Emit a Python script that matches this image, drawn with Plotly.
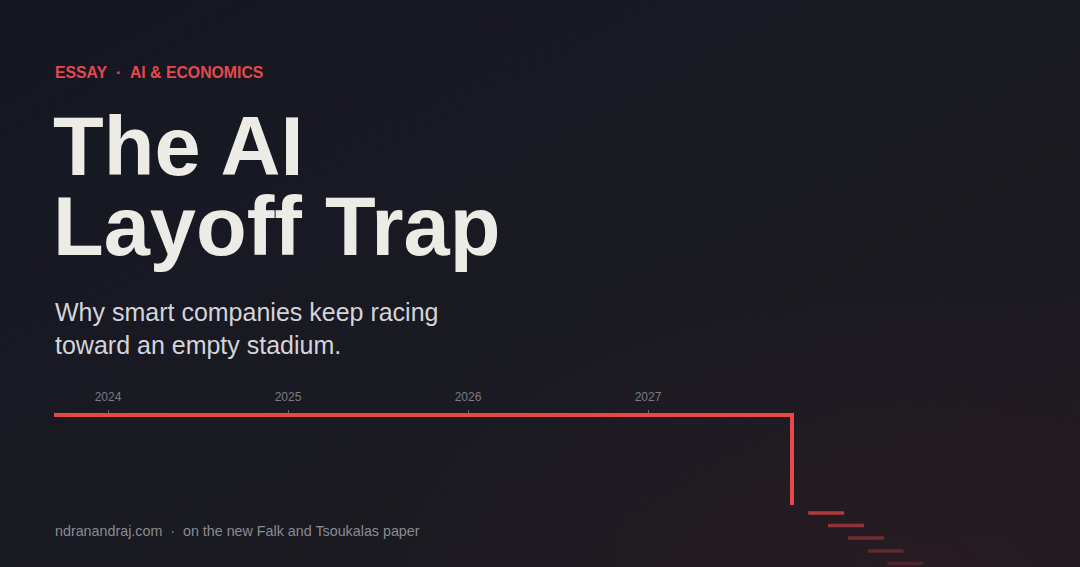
import base64
import plotly.graph_objects as go

# timeline data (x in years, y = headcount level)
line_years = [2023.7, 2027.8, 2027.8]
line_level = [150, 150, 60]

step_start = [2027.89, 2028.0, 2028.11, 2028.22, 2028.33]
step_end = [2028.09, 2028.2, 2028.31, 2028.42, 2028.53]
step_level = [52, 39.5, 27, 14, 1.5]
step_alpha = [0.7, 0.55, 0.4, 0.3, 0.2]

tick_years = [2024, 2025, 2026, 2027]
tick_text = ["2024", "2025", "2026", "2027"]

RED = "#e8484a"

# background gradient as an svg image
bg_svg = """<svg xmlns='http://www.w3.org/2000/svg' width='1080' height='567' viewBox='0 0 1080 567' preserveAspectRatio='none'>
<defs>
<linearGradient id='g' x1='0' y1='0' x2='1' y2='1'>
<stop offset='0' stop-color='#141722'/>
<stop offset='0.5' stop-color='#1a1a22'/>
<stop offset='1' stop-color='#1f1a20'/>
</linearGradient>
<radialGradient id='r' cx='0.85' cy='1' r='0.5'>
<stop offset='0' stop-color='#e8484a' stop-opacity='0.04'/>
<stop offset='1' stop-color='#e8484a' stop-opacity='0'/>
</radialGradient>
</defs>
<rect width='1080' height='567' fill='url(#g)'/>
<rect width='1080' height='567' fill='url(#r)'/>
</svg>"""
bg_uri = "data:image/svg+xml;base64," + base64.b64encode(bg_svg.encode()).decode()

fig = go.Figure()

fig.add_trace(go.Scatter(
    x=line_years, y=line_level, mode="lines",
    line=dict(color=RED, width=4), hoverinfo="skip", showlegend=False
))

for s, e, lv, a in zip(step_start, step_end, step_level, step_alpha):
    fig.add_trace(go.Scatter(
        x=[s, e], y=[lv, lv], mode="lines",
        line=dict(color="rgba(232,72,74,%s)" % a, width=3.5),
        hoverinfo="skip", showlegend=False
    ))

W, H = 1080, 567


def px(x, y):
    return x / W, 1 - y / H


def label(text, x, y, size, color, weight="normal", family="Liberation Sans"):
    ax, ay = px(x, y)
    fig.add_annotation(
        text=text, x=ax, y=ay, xref="paper", yref="paper",
        xanchor="left", yanchor="middle", showarrow=False, borderpad=0,
        font=dict(family=family, size=size, color=color, weight=weight)
    )


label("ESSAY\u00a0\u00a0·\u00a0\u00a0AI &amp; ECONOMICS", 54, 73, 15.8, "#e5484d", weight="bold")
label("The AI", 52, 146, 83, "#ecebe6", weight="bold")
label("Layoff Trap", 52, 226, 83, "#ecebe6", weight="bold")
label("Why smart companies keep racing", 54, 312, 25, "#d4d4da")
label("toward an empty stadium.", 54, 345, 25, "#d4d4da")
label("ndranandraj.com\u00a0\u00a0·\u00a0\u00a0on the new Falk and Tsoukalas paper", 54, 531, 14.3, "#8b8b93")

fig.update_layout(
    width=W, height=H,
    margin=dict(l=0, r=0, t=0, b=0),
    paper_bgcolor="#181922",
    plot_bgcolor="rgba(0,0,0,0)",
    images=[dict(source=bg_uri, xref="paper", yref="paper", x=0, y=1,
                 sizex=1, sizey=1, sizing="stretch", layer="below")],
    xaxis=dict(
        range=[2024 - 108 / 180, 2024 + 972 / 180],
        side="top", anchor="free", position=(H - 413) / H,
        tickvals=tick_years, ticktext=tick_text,
        ticks="outside", ticklen=3, tickwidth=1, tickcolor="#6b6b74",
        tickfont=dict(family="Liberation Sans", size=12, color="#7c7c85"),
        ticklabelstandoff=4,
        showgrid=False, zeroline=False, showline=False, fixedrange=True
    ),
    yaxis=dict(
        range=[565 - H, 565], visible=False, showgrid=False,
        zeroline=False, fixedrange=True
    ),
)

fig.write_html(
    "out.html",
    config={"displayModeBar": False},
    post_script="document.body.style.margin='0';document.body.style.background='#181922';document.body.style.overflow='hidden';"
)
